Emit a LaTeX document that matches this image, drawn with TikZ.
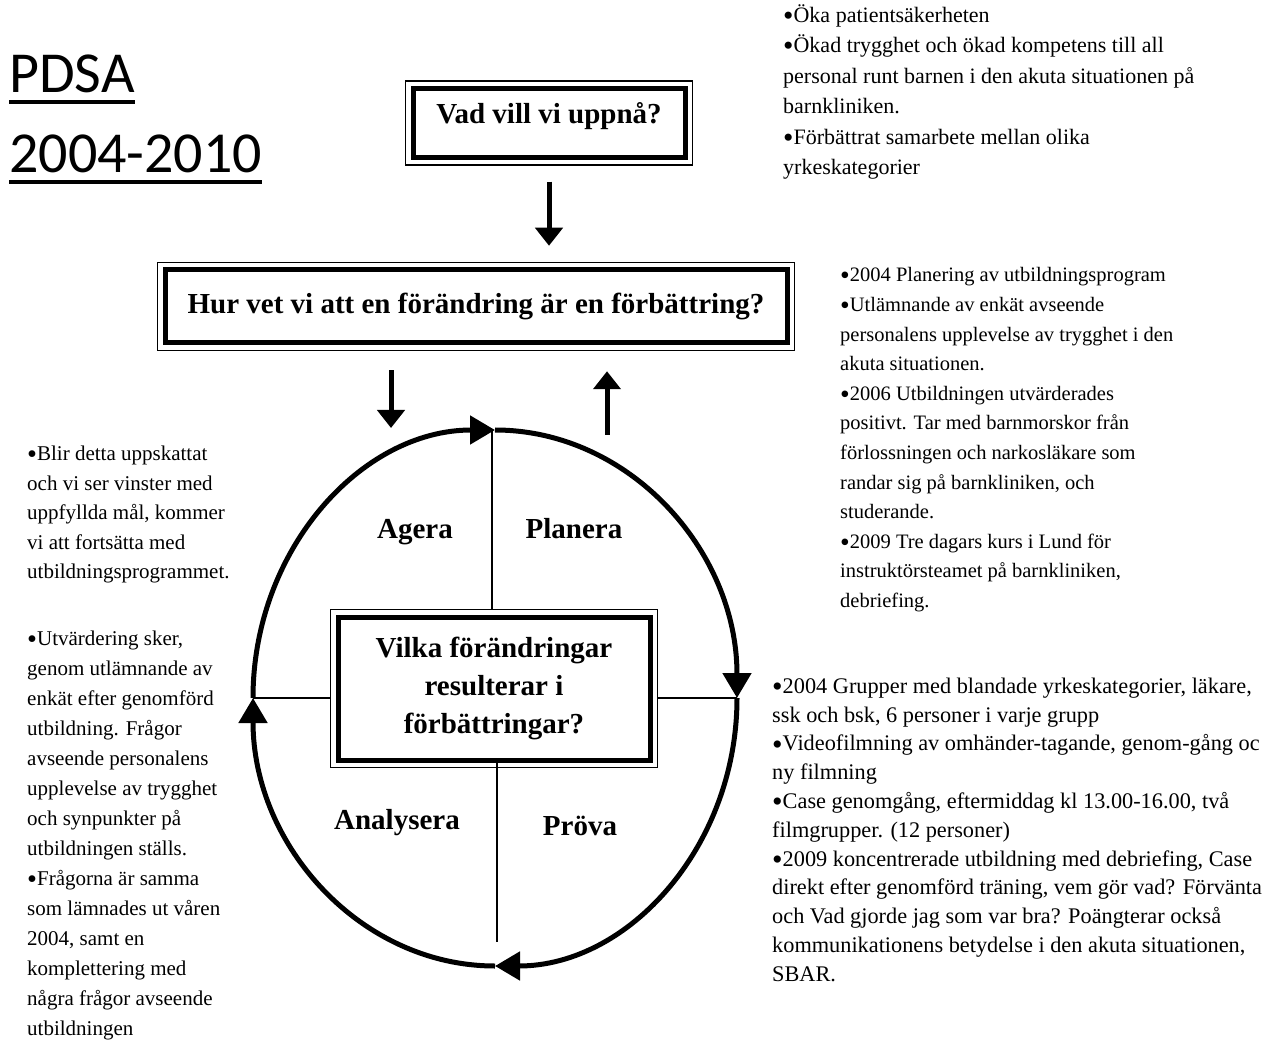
\documentclass[tikz,border=0pt]{standalone}
\usepackage{fontspec}
\setmainfont{Liberation Serif}
\newfontfamily\titlefont{Carlito}
\usetikzlibrary{arrows,arrows.meta,calc,fit,positioning}
\newcommand{\bul}{\raisebox{-0.14em}{\scalebox{1.35}{•}}}

\begin{document}
\begin{tikzpicture}[x=1pt,y=-1pt,>={Triangle[width=27pt,length=18pt]},
  inner frame/.style={draw,line width=5pt,font=\fontsize{29}{38}\selectfont\bfseries,align=center},
  outer frame/.style={draw,line width=1.5pt,inner sep=5pt},
  note/.style={anchor=north west,inner sep=0pt,align=left},
  big arrow/.style={->,line width=5pt},
  cycle arrow/.style={-{Triangle[width=28pt,length=25pt]},line width=5pt},
  phase/.style={anchor=base,font=\fontsize{29}{34}\selectfont\bfseries},
  title/.style={anchor=base west,inner sep=0pt,font=\titlefont\fontsize{58}{60}\selectfont}]

\path[use as bounding box] (0,0) rectangle (1264,1040);
\clip (0,0) rectangle (1264,1040);

% title
\node[title](pdsa) at (9,93) {PDSA};
\node[title](years) at (9,173) {2004-2010};
\draw[line width=4pt] ([yshift=-9pt]pdsa.base west) -- ([yshift=-9pt]pdsa.base east);
\draw[line width=4pt] ([yshift=-9pt]years.base west) -- ([yshift=-9pt]years.base east);

% question boxes
\node[inner frame,minimum width=272,minimum height=69,text depth=20pt](vad) at (549,123) {Vad vill vi uppnå?};
\node[outer frame,fit=(vad)](vadframe) {};
\node[inner frame,minimum width=622,minimum height=73](hur) at (476,306.5) {Hur vet vi att en förändring är en förbättring?};
\node[outer frame,fit=(hur)](hurframe) {};

\draw[big arrow,shorten <=16pt,shorten >=16pt] (vadframe.south) -- (hurframe.north -| vadframe.south);

\coordinate (downend) at (391,428);
\coordinate (upstart) at (607,435);
\draw[big arrow,shorten <=19pt] (hurframe.south -| downend) -- (downend);
\draw[big arrow,shorten >=20pt] (upstart) -- (hurframe.south -| upstart);

% cycle
\coordinate (ctop) at (495,430);
\coordinate (cright) at (737,698);
\coordinate (cbot) at (495,966);
\coordinate (cleft) at (253,698);
\draw[cycle arrow] (cleft) arc[start angle=180,end angle=90,x radius=242pt,y radius=268pt];
\draw[cycle arrow] (ctop) arc[start angle=90,end angle=0,x radius=242pt,y radius=268pt];
\draw[cycle arrow] (cright) arc[start angle=0,end angle=-90,x radius=242pt,y radius=268pt];
\draw[cycle arrow] (cbot) arc[start angle=-90,end angle=-180,x radius=242pt,y radius=268pt];

\node[inner frame,minimum width=312,minimum height=143](vilka) at (494,688.5) {Vilka förändringar\\resulterar i\\förbättringar?};
\node[outer frame,fit=(vilka)](vilkaframe) {};

\coordinate (topjoin) at (492,430);
\coordinate (stemend) at (497,942);
\draw[line width=1.3pt] (topjoin) -- (topjoin |- vilkaframe.north);
\draw[line width=1.3pt] (cleft) -- (cleft -| vilkaframe.west);
\draw[line width=1.3pt] (vilkaframe.east |- cright) -- (cright);
\draw[line width=1.3pt] (vilka.south -| stemend) -- (stemend);

\node[phase](agera) at (415,538) {Agera};
\node[phase](planera) at (574,538) {Planera};
\node[phase](analysera) at (397,829) {Analysera};
\node[phase](prova) at (580,835) {Pröva};

% notes
\node[note,font=\fontsize{22}{30.4}\selectfont](goals) at (783,1) {\strut\bul Öka patientsäkerheten\\
\bul Ökad trygghet och ökad kompetens till all\\
personal runt barnen i den akuta situationen på\\
barnkliniken.\\
\bul Förbättrat samarbete mellan olika\\
yrkeskategorier};

\node[note,font=\fontsize{20.5}{29.6}\selectfont](plan) at (840,261) {\strut\bul 2004 Planering av utbildningsprogram\\
\bul Utlämnande av enkät avseende\\
personalens upplevelse av trygghet i den\\
akuta situationen.\\
\bul 2006 Utbildningen utvärderades\\
positivt. Tar med barnmorskor från\\
förlossningen och narkosläkare som\\
randar sig på barnkliniken, och\\
studerande.\\
\bul 2009 Tre dagars kurs i Lund för\\
instruktörsteamet på barnkliniken,\\
debriefing.};

\node[note,font=\fontsize{22.3}{28.8}\selectfont](test) at (772,673) {\strut\bul 2004 Grupper med blandade yrkeskategorier, läkare,\\
ssk och bsk, 6 personer i varje grupp\\
\bul Videofilmning av omhänder-tagande, genom-gång oc\\
ny filmning\\
\bul Case genomgång, eftermiddag kl 13.00-16.00, två\\
filmgrupper. (12 personer)\\
\bul 2009 koncentrerade utbildning med debriefing, Case\\
direkt efter genomförd träning, vem gör vad? Förvänta\\
och Vad gjorde jag som var bra? Poängterar också\\
kommunikationens betydelse i den akuta situationen,\\
SBAR.};

\node[note,font=\fontsize{21}{29.5}\selectfont](act) at (27,440) {\strut\bul Blir detta uppskattat\\
och vi ser vinster med\\
uppfyllda mål, kommer\\
vi att fortsätta med\\
utbildningsprogrammet.};

\node[note,font=\fontsize{21}{30}\selectfont](study) at (27,624) {\strut\bul Utvärdering sker,\\
genom utlämnande av\\
enkät efter genomförd\\
utbildning. Frågor\\
avseende personalens\\
upplevelse av trygghet\\
och synpunkter på\\
utbildningen ställs.\\
\bul Frågorna är samma\\
som lämnades ut våren\\
2004, samt en\\
komplettering med\\
några frågor avseende\\
utbildningen};
\end{tikzpicture}
\end{document}
